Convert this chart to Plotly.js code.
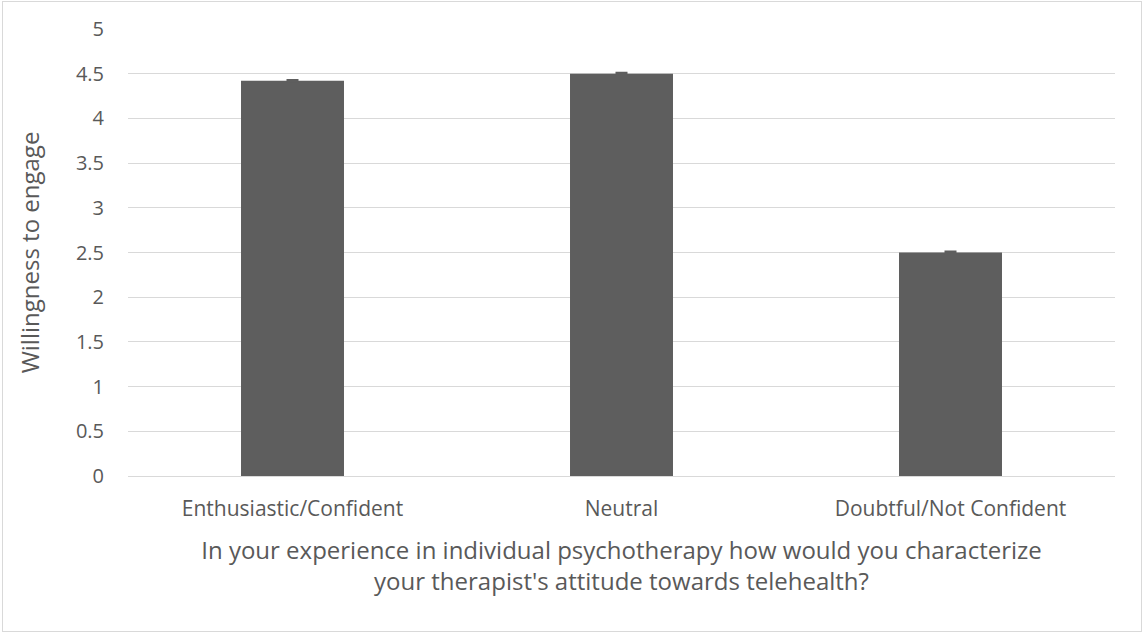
<!DOCTYPE html>
<html>
<head>
<meta charset="utf-8">
<script src="https://cdn.plot.ly/plotly-3.0.1.min.js"></script>
<style>
  html, body { margin: 0; padding: 0; background: #ffffff; }
  #wrap { position: relative; width: 1143px; height: 632px; }
  #chart { width: 1143px; height: 632px; }
  #frame { position: absolute; left: 2px; top: 1px; width: 1138px; height: 629px;
           border: 1px solid #d9d9d9; pointer-events: none; }
</style>
</head>
<body>
<div id="wrap">
  <div id="chart"></div>
  <div id="frame"></div>
</div>
<script>
// Therapist attitude categories and mean willingness scores
const categories = ["Enthusiastic/Confident", "Neutral", "Doubtful/Not Confident"];
const willingness = [4.42, 4.5, 2.5];
const errorMargins = [0.01, 0.01, 0.01];
const yTicks = [0, 0.5, 1, 1.5, 2, 2.5, 3, 3.5, 4, 4.5, 5];
const yTickLabels = ["0", "0.5", "1", "1.5", "2", "2.5", "3", "3.5", "4", "4.5", "5"];

const textColor = "#595959";
const fontFamily = "'Open Sans', 'Noto Sans', sans-serif";

const trace = {
  type: "bar",
  x: categories,
  y: willingness,
  marker: { color: "#5e5e5e", line: { width: 0 } },
  error_y: {
    type: "data",
    array: errorMargins,
    visible: true,
    color: "#5e5e5e",
    thickness: 2,
    width: 6
  },
  hoverinfo: "x+y"
};

const layout = {
  width: 1143,
  height: 632,
  margin: { l: 128, r: 28, t: 29, b: 156 },
  paper_bgcolor: "#ffffff",
  plot_bgcolor: "#ffffff",
  bargap: 0.687,
  showlegend: false,
  font: { family: fontFamily, color: textColor, size: 20 },
  xaxis: {
    type: "category",
    showgrid: false,
    showline: true,
    linecolor: "#d9d9d9",
    linewidth: 1,
    ticks: "",
    ticklabelstandoff: 14,
    tickfont: { size: 21, color: textColor },
    title: {
      text: "In your experience in individual psychotherapy how would you characterize<br>your therapist's attitude towards telehealth?",
      font: { size: 24, color: textColor },
      standoff: 20
    }
  },
  yaxis: {
    range: [0, 5],
    tickvals: yTicks,
    ticktext: yTickLabels,
    showgrid: true,
    gridcolor: "#d9d9d9",
    gridwidth: 1,
    zeroline: false,
    showline: false,
    ticks: "",
    ticklabelstandoff: 23,
    tickfont: { size: 20, color: textColor },
    title: {
      text: "Willingness to engage",
      font: { size: 24, color: textColor },
      standoff: 29
    }
  }
};

Plotly.newPlot("chart", [trace], layout, { displayModeBar: false, staticPlot: true });
</script>
</body>
</html>
